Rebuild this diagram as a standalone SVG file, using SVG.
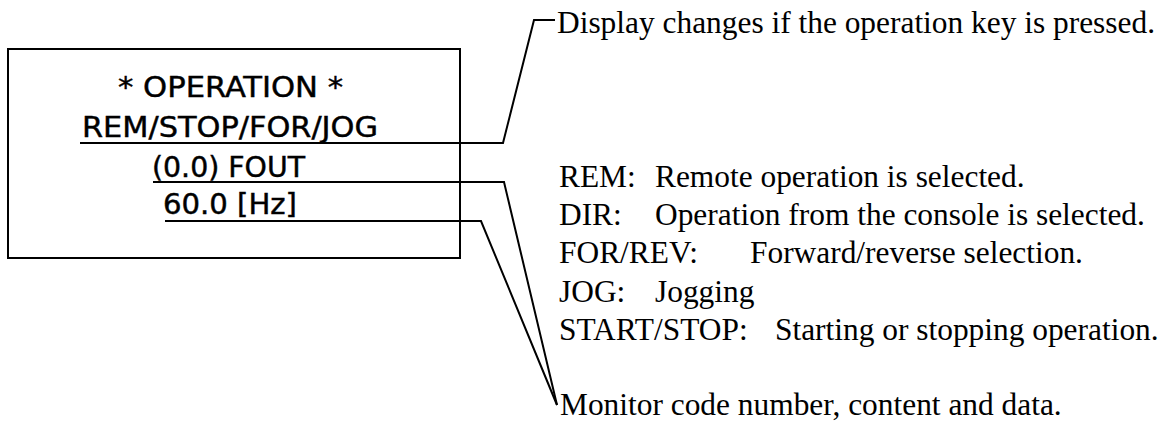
<svg xmlns="http://www.w3.org/2000/svg" width="1168" height="425" viewBox="0 0 1168 425">
<style>
.lcd{font-family:"DejaVu Sans Condensed","DejaVu Sans",sans-serif;font-size:28px;fill:#000;stroke:#000;stroke-width:0.4}
.ser{font-family:"Liberation Serif","Times New Roman",serif;font-size:31.4px;fill:#000}
.ln{fill:none;stroke:#000;stroke-width:2;stroke-linejoin:miter}
</style>
<rect width="1168" height="425" fill="#fff"/>
<g id="display">
<rect x="8" y="49" width="452" height="209" fill="none" stroke="#000" stroke-width="2"/>
<text class="lcd" x="118" y="97" textLength="225" lengthAdjust="spacingAndGlyphs">* OPERATION *</text>
<text class="lcd" x="82" y="137" textLength="296" lengthAdjust="spacingAndGlyphs">REM/STOP/FOR/JOG</text>
<text class="lcd" x="152" y="177" textLength="153" lengthAdjust="spacingAndGlyphs">(0.0) FOUT</text>
<text class="lcd" x="163" y="214" textLength="134" lengthAdjust="spacingAndGlyphs">60.0 [Hz]</text>
</g>
<g id="note-key">
<text class="ser" x="557" y="33">Display changes if the operation key is pressed.</text>
</g>
<g id="note-legend">
<text class="ser" x="559" y="187">REM:<tspan x="655">Remote operation is selected.</tspan></text>
<text class="ser" x="559" y="225">DIR:<tspan x="655">Operation from the console is selected.</tspan></text>
<text class="ser" x="559" y="263">FOR/REV:<tspan x="750">Forward/reverse selection.</tspan></text>
<text class="ser" x="559" y="302">JOG:<tspan x="655">Jogging</tspan></text>
<text class="ser" x="559" y="340">START/STOP:<tspan x="775">Starting or stopping operation.</tspan></text>
</g>
<g id="note-monitor">
<text class="ser" x="560" y="415">Monitor code number, content and data.</text>
</g>
<g id="connectors">
<polyline class="ln" points="80,143 503,143 534,20 555,20"/>
<polyline class="ln" points="153,182 504,182 557,405"/>
<polyline class="ln" points="165,221 481,221 557,405"/>
</g>
</svg>
